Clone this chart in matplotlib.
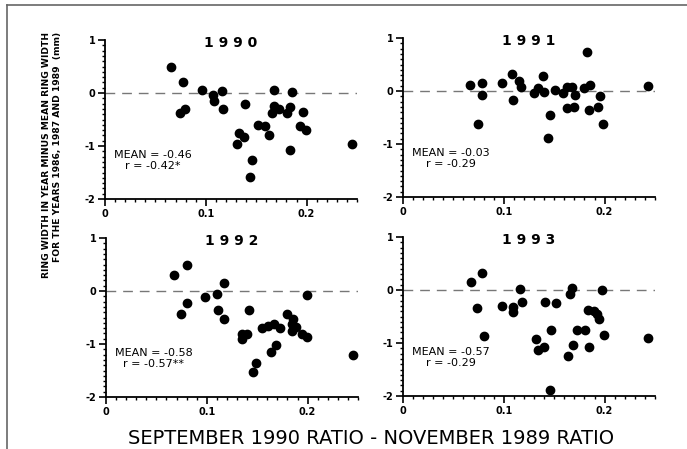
import numpy as np
import matplotlib.pyplot as plt
from matplotlib.lines import Line2D
from matplotlib.ticker import MultipleLocator

# ratio difference (x) vs ring width anomaly (y), one set per year
x1990 = [0.065, 0.077, 0.074, 0.079, 0.096, 0.107, 0.108, 0.116, 0.117, 0.139,
         0.131, 0.133, 0.138, 0.146, 0.144, 0.152, 0.159, 0.163, 0.168, 0.166,
         0.168, 0.173, 0.181, 0.184, 0.186, 0.184, 0.196, 0.193, 0.199, 0.245]
y1990 = [0.50, 0.21, -0.38, -0.30, 0.05, -0.03, -0.16, 0.03, -0.31, -0.21,
         -0.96, -0.75, -0.83, -1.27, -1.58, -0.60, -0.63, -0.80, 0.05, -0.38,
         -0.24, -0.31, -0.38, -0.27, 0.01, -1.07, -0.35, -0.63, -0.69, -0.96]

x1991 = [0.066, 0.078, 0.078, 0.074, 0.098, 0.108, 0.109, 0.115, 0.117, 0.130,
         0.134, 0.139, 0.140, 0.146, 0.144, 0.151, 0.159, 0.163, 0.163, 0.168,
         0.170, 0.171, 0.180, 0.183, 0.186, 0.185, 0.193, 0.195, 0.198, 0.243]
y1991 = [0.11, 0.16, -0.08, -0.62, 0.16, 0.32, -0.17, 0.18, 0.08, -0.04,
         0.05, 0.28, -0.01, -0.45, -0.88, 0.02, -0.04, 0.08, -0.33, 0.08,
         -0.31, -0.08, 0.05, 0.73, 0.11, -0.35, -0.31, -0.09, -0.62, 0.09]

x1992 = [0.067, 0.080, 0.074, 0.080, 0.098, 0.110, 0.111, 0.117, 0.117, 0.135,
         0.135, 0.140, 0.142, 0.146, 0.149, 0.155, 0.161, 0.164, 0.167, 0.169,
         0.173, 0.180, 0.186, 0.185, 0.188, 0.185, 0.194, 0.199, 0.199, 0.245]
y1992 = [0.31, 0.50, -0.44, -0.22, -0.11, -0.06, -0.35, 0.16, -0.53, -0.82,
         -0.90, -0.82, -0.36, -1.53, -1.35, -0.70, -0.66, -1.15, -0.62, -1.02,
         -0.70, -0.44, -0.53, -0.63, -0.67, -0.75, -0.82, -0.86, -0.08, -1.21]

x1993 = [0.067, 0.078, 0.073, 0.080, 0.098, 0.109, 0.109, 0.116, 0.118, 0.132,
         0.134, 0.140, 0.141, 0.146, 0.147, 0.152, 0.164, 0.166, 0.168, 0.169,
         0.173, 0.181, 0.184, 0.185, 0.189, 0.192, 0.194, 0.197, 0.199, 0.243]
y1993 = [0.16, 0.33, -0.34, -0.86, -0.31, -0.33, -0.41, 0.01, -0.22, -0.92,
         -1.14, -1.08, -0.22, -1.88, -0.75, -0.25, -1.25, -0.08, 0.04, -1.03,
         -0.75, -0.75, -0.38, -1.07, -0.39, -0.46, -0.55, 0.00, -0.85, -0.90]

years = ['1 9 9 0', '1 9 9 1', '1 9 9 2', '1 9 9 3']
means = ['-0.46', '-0.03', '-0.58', '-0.57']
rvals = ['-0.42*', '-0.29', '-0.57**', '-0.29']
xs = [x1990, x1991, x1992, x1993]
ys = [y1990, y1991, y1992, y1993]

W, H = 687, 449
fig = plt.figure(figsize=(W/100, H/100), dpi=100)

# axes boxes in pixels: left, bottom(from top)
boxes = [(105, 199), (403, 197), (106, 397), (403, 396)]
aw, ah = 252, 159

for i in range(4):
    l, b = boxes[i]
    ax = fig.add_axes([l/W, 1-b/H, aw/W, ah/H])
    ax.scatter(xs[i], ys[i], s=36, c='black', zorder=3, clip_on=False)
    ax.axhline(0, color='#777777', lw=1.0, dashes=(7, 5), zorder=1)
    ax.set_xlim(0, 0.25)
    ax.set_ylim(-2, 1)
    for s in ['top', 'right']:
        ax.spines[s].set_visible(False)
    for s in ['left', 'bottom']:
        ax.spines[s].set_linewidth(1.3)
    ax.set_xticks([0, 0.1, 0.2])
    ax.set_xticklabels(['0', '0.1', '0.2'])
    ax.set_yticks([-2, -1, 0, 1])
    ax.set_yticklabels(['-2', '-1', '0', '1'])
    ax.xaxis.set_minor_locator(MultipleLocator(0.01))
    ax.yaxis.set_minor_locator(MultipleLocator(0.1))
    ax.tick_params(which='major', direction='out', length=5, width=1.2,
                   labelsize=7, pad=2)
    ax.tick_params(which='minor', direction='out', length=2.5, width=1.0)
    for lab in ax.get_xticklabels() + ax.get_yticklabels():
        lab.set_fontweight('bold')
    ax.text(0.125, 0.95, years[i], ha='center', va='center',
            fontsize=10, fontweight='bold')
    ax.text(0.009, -1.28, 'MEAN = ' + means[i] + '\nr = ' + rvals[i],
            ha='left', va='center', multialignment='center',
            fontsize=8, linespacing=1.1)
    ax.patch.set_alpha(0)

fig.text(52/W, 1-155/H,
         'RING WIDTH IN YEAR MINUS MEAN RING WIDTH\nFOR THE YEARS 1986, 1987 AND 1989  (mm)',
         rotation=90, ha='center', va='center', multialignment='right',
         fontsize=6.6, fontweight='bold', linespacing=1.25)
fig.text(371/W, 1-439/H, 'SEPTEMBER 1990 RATIO - NOVEMBER 1989 RATIO',
         ha='center', va='center', fontsize=14)

# outer frame of the scanned figure
fig.add_artist(Line2D([7/W, 7/W], [0, 1-5/H], color='#666666', lw=1.2))
fig.add_artist(Line2D([7/W, 1], [1-5/H, 1-5/H], color='#666666', lw=1.2))

fig.savefig('out.png', dpi=100)
